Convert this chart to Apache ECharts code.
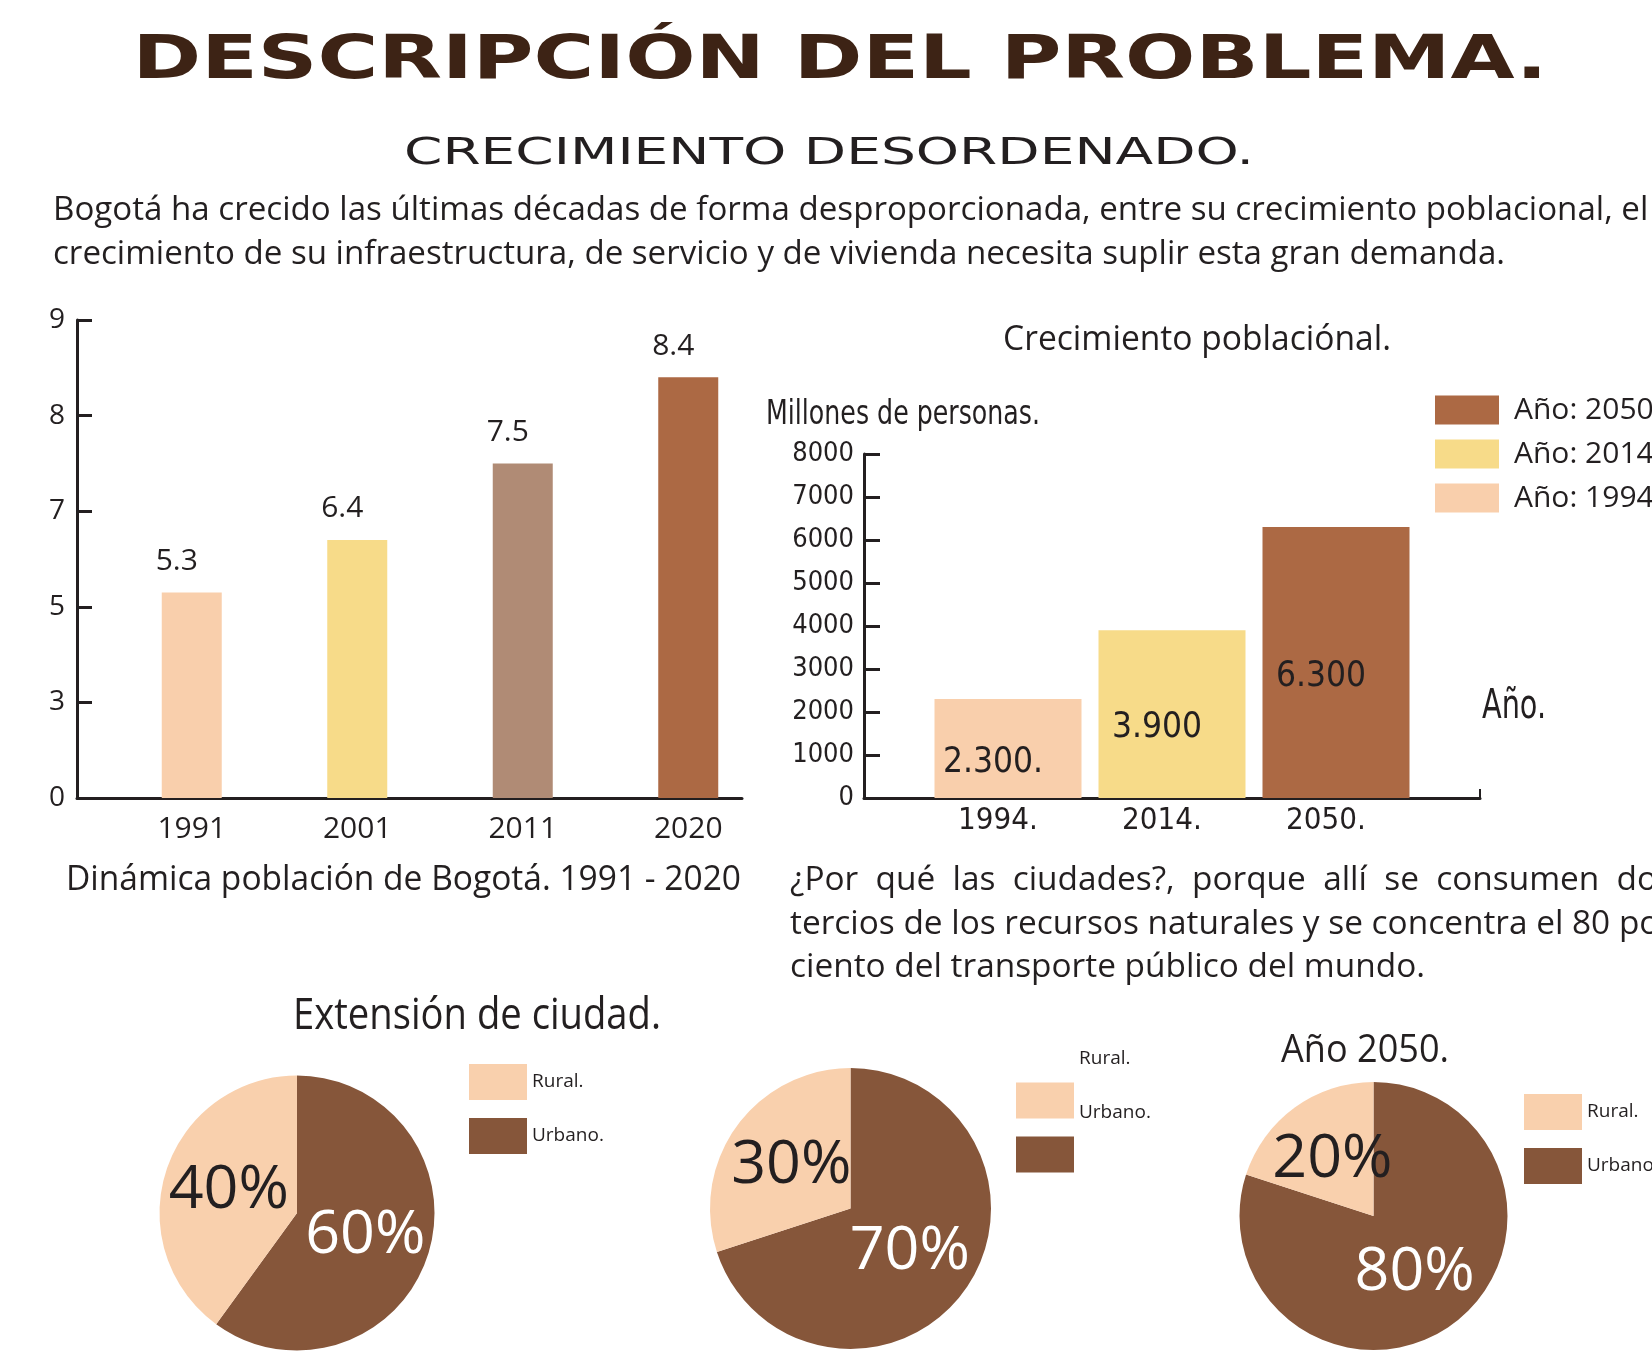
<!DOCTYPE html>
<html><head><meta charset="utf-8">
<script src="https://cdn.jsdelivr.net/npm/echarts@6/dist/echarts.min.js"></script>
<style>html,body{margin:0;padding:0;background:#fff}#c{width:1652px;height:1359px}</style>
</head><body><div id="c"></div>
<script>
// ---------- data ----------
const popYears = ['1991', '2001', '2011', '2020'];
const popValues = [5.3, 6.4, 7.5, 8.4];
const popTicks = [0, 3, 5, 7, 8, 9];
const growthYears = ['1994.', '2014.', '2050.'];
const growthValues = [2300, 3900, 6300];
const growthLabels = ['2.300.', '3.900', '6.300'];
const growthSeriesNames = ['Año: 1994', 'Año: 2014', 'Año: 2050'];
const growthTicks = [0, 8000, 1000];
const pieNames = ['Rural.', 'Urbano.'];
const pieExt = [40, 60];
const pieNow = [30, 70];
const pie2050 = [20, 80];

const titleText = 'DESCRIPCIÓN DEL PROBLEMA.';
const subtitleText = 'CRECIMIENTO DESORDENADO.';
const introLines = ['Bogotá ha crecido las últimas décadas de forma desproporcionada, entre su crecimiento poblacional, el',
  'crecimiento de su infraestructura, de servicio y de vivienda necesita suplir esta gran demanda.'];
const whyLines = ['¿Por qué las ciudades?, porque allí se consumen dos',
  'tercios de los recursos naturales y se concentra el 80 por',
  'ciento del transporte público del mundo.'];
const popCaption = 'Dinámica población de Bogotá. 1991 - 2020';
const growthTitle = 'Crecimiento poblaciónal.';
const growthYName = 'Millones de personas.';
const growthXName = 'Año.';
const pie1Title = 'Extensión de ciudad.';
const pie3Title = 'Año 2050.';

// ---------- styles ----------
const DARK = '#231F20';
const TITLE = '#3D2315';
const SANS = '"Open Sans", "Noto Sans", sans-serif';
const NARROW = '"Liberation Sans Narrow", "DejaVu Sans Condensed", "Open Sans", sans-serif';
const popColors = ['#F9CFAC', '#F7DB89', '#B08B75', '#AC6944'];
const growthColors = ['#F9CFAC', '#F7DB89', '#AC6944'];
const PEACH = '#F9D0AD', PIEBROWN = '#86563A';

// piecewise scale: equally spaced labelled ticks
function toAxis(v) {
  for (let i = 0; i < popTicks.length - 1; i++) {
    if (v <= popTicks[i + 1]) return i + (v - popTicks[i]) / (popTicks[i + 1] - popTicks[i]);
  }
  return popTicks.length - 1;
}

const mctx = document.createElement('canvas').getContext('2d');
function textW(t, size, family, weight) {
  mctx.font = (weight || 'normal') + ' ' + size + 'px ' + family;
  return mctx.measureText(t).width;
}
function txt(t, o) {
  const sx = o.width ? o.width / textW(t, o.size, o.family || SANS, o.weight) : (o.sx || 1);
  return { type: 'text', x: o.x, y: o.y, scaleX: sx, silent: true, z: 10,
    style: { text: t, fontSize: o.size, fontFamily: o.family || SANS, fontWeight: o.weight || 'normal',
      fill: o.fill || DARK, align: o.align || 'left', verticalAlign: 'middle' } };
}

const graphics = [];
graphics.push(txt(titleText, { x: 840, y: 62, size: 60, family: '"DejaVu Sans", sans-serif', weight: 'bold', width: 1415, align: 'center', fill: TITLE }));
graphics.push(txt(subtitleText, { x: 829, y: 154, size: 38, family: '"DejaVu Sans", sans-serif', width: 850, align: 'center' }));
const introScale = 1452 / textW(introLines[1], 32, SANS);
introLines.forEach((l, i) => graphics.push(txt(l, { x: 53, y: 211 + i * 44, size: 32, sx: introScale })));
graphics.push(txt(popCaption, { x: 66, y: 880, size: 34, width: 675 }));
graphics.push(txt(growthTitle, { x: 1003, y: 340, size: 34, width: 388 }));
graphics.push(txt(growthYName, { x: 766, y: 415, size: 34, family: NARROW, width: 274 }));
graphics.push(txt(growthXName, { x: 1482, y: 708, size: 40, family: NARROW, width: 64 }));
graphics.push(txt(pie1Title, { x: 293, y: 1017, size: 43, width: 368 }));
graphics.push(txt(pie3Title, { x: 1281, y: 1051, size: 38, width: 168 }));
// right paragraph (first line justified)
const whyScale = 635 / textW(whyLines[2], 32, SANS);
const lineW = textW(whyLines[1], 32, SANS) * whyScale;
const words = whyLines[0].split(' ');
const wWidths = words.map(w => textW(w, 32, SANS) * whyScale);
const gap = (lineW - wWidths.reduce((a, b) => a + b, 0)) / (words.length - 1);
let cx = 790;
words.forEach((w, i) => { graphics.push(txt(w, { x: cx, y: 881, size: 32, sx: whyScale })); cx += wWidths[i] + gap; });
whyLines.slice(1).forEach((l, i) => graphics.push(txt(l, { x: 790, y: 925 + i * 43, size: 32, sx: whyScale })));

function pieSeries(vals, center, r) {
  return {
    type: 'pie', center: center, radius: r, startAngle: 90, clockwise: true, silent: true,
    avoidLabelOverlap: false, labelLine: { show: false },
    label: { show: true, position: 'inside', formatter: '{c}%', fontSize: 61, fontFamily: SANS },
    emphasis: { disabled: true },
    data: [
      { name: pieNames[1], value: vals[1], itemStyle: { color: PIEBROWN }, label: { color: '#FFFFFF' } },
      { name: pieNames[0], value: vals[0], itemStyle: { color: PEACH }, label: { color: DARK } }
    ]
  };
}
function pieLegend(left, top, raise) {
  const l = { data: pieNames, orient: 'vertical', left: left, top: top, padding: 0, icon: 'rect',
    itemWidth: 58, itemHeight: 36, itemGap: 18, selectedMode: false,
    textStyle: { fontSize: 19, fontFamily: SANS, color: DARK } };
  if (raise) {
    l.formatter = '{t|{name}}\n{s| }';
    l.itemGap = -17;
    l.textStyle.rich = { t: { fontSize: 19, fontFamily: SANS, color: DARK, lineHeight: 20 },
      s: { fontSize: 19, lineHeight: 84 } };
  }
  return l;
}

const hiddenAxis = { show: false };
const option = {
  backgroundColor: '#FFFFFF',
  animation: false,
  graphic: graphics,
  grid: [
    { left: 109, top: 320, width: 662, height: 478 },
    { left: 77, top: 320, width: 665, height: 478 },
    { left: 926, top: 454, width: 492, height: 344 },
    { left: 864, top: 454, width: 616, height: 344 }
  ],
  xAxis: [
    { gridIndex: 0, type: 'category', data: popYears, axisLine: { show: false }, axisTick: { show: false },
      axisLabel: { fontSize: 30, fontFamily: SANS, color: DARK, margin: 16 } },
    { gridIndex: 1, type: 'value', min: 0, max: 1, axisLine: { show: true, lineStyle: { color: DARK, width: 3 } },
      axisTick: { show: false }, axisLabel: { show: false }, splitLine: { show: false } },
    { gridIndex: 2, type: 'category', data: growthYears, axisLine: { show: false }, axisTick: { show: false },
      axisLabel: { fontSize: 31, fontFamily: NARROW, color: DARK, margin: 7, padding: [0, 20, 0, 0] } },
    { gridIndex: 3, type: 'value', min: 0, max: 1, interval: 1, axisLine: { show: true, lineStyle: { color: DARK, width: 3 } },
      axisTick: { show: true, inside: true, length: 9, lineStyle: { color: DARK, width: 2 } },
      axisLabel: { show: false }, splitLine: { show: false } }
  ],
  yAxis: [
    { gridIndex: 0, type: 'value', min: 0, max: popTicks.length - 1, interval: 1, offset: 32,
      axisLine: { show: true, lineStyle: { color: DARK, width: 3 } },
      axisTick: { show: true, inside: true, length: 15, lineStyle: { color: DARK, width: 3 } },
      axisLabel: { fontSize: 28, fontFamily: SANS, color: DARK, margin: 12, formatter: v => String(popTicks[v]) },
      splitLine: { show: false } },
    Object.assign({ gridIndex: 1, type: 'value' }, hiddenAxis),
    { gridIndex: 2, type: 'value', min: growthTicks[0], max: growthTicks[1], interval: growthTicks[2], offset: 62,
      axisLine: { show: true, lineStyle: { color: DARK, width: 3 } },
      axisTick: { show: true, inside: true, length: 16, lineStyle: { color: DARK, width: 3 } },
      axisLabel: { fontSize: 27, fontFamily: NARROW, color: DARK, margin: 10, formatter: v => String(v) },
      splitLine: { show: false } },
    Object.assign({ gridIndex: 3, type: 'value' }, hiddenAxis)
  ],
  legend: [
    { data: growthSeriesNames.slice().reverse(), orient: 'vertical', left: 1435, top: 395, padding: 0, icon: 'rect',
      itemWidth: 64, itemHeight: 29, itemGap: 14, selectedMode: false,
      formatter: '{t|{name}}',
      textStyle: { fontSize: 30, fontFamily: SANS, color: DARK,
        rich: { t: { fontSize: 30, fontFamily: SANS, color: DARK, padding: [0, 0, 0, 10] } } } },
    pieLegend(469, 1064, false),
    pieLegend(1016, 1049, true),
    pieLegend(1524, 1094, false)
  ],
  series: [
    { type: 'bar', name: 'Población', xAxisIndex: 0, yAxisIndex: 0, barWidth: 60, silent: true,
      data: popValues.map((v, i) => ({ value: toAxis(v), itemStyle: { color: popColors[i] } })),
      label: { show: true, position: 'top', distance: 16, offset: [-15, 0], fontSize: 30, fontFamily: SANS, color: DARK,
        formatter: p => String(popValues[p.dataIndex]) } }
  ].concat(growthSeriesNames.map((name, k) => ({
    type: 'bar', name: name, xAxisIndex: 2, yAxisIndex: 2, stack: 'g', barWidth: 147, silent: true,
    itemStyle: { color: growthColors[k] },
    data: growthValues.map((v, j) => (j === k ? v : '-')),
    label: { show: true, position: 'inside', offset: [-15, 14], fontSize: 35, fontFamily: NARROW, color: DARK,
      formatter: () => growthLabels[k] }
  }))).concat([
    pieSeries(pieExt, [297, 1213], 137.5),
    pieSeries(pieNow, [850.5, 1208.5], 140.5),
    pieSeries(pie2050, [1373.5, 1216], 134)
  ])
};

const chart = echarts.init(document.getElementById('c'), null, { renderer: 'canvas' });
chart.setOption(option);
</script>
</body></html>
